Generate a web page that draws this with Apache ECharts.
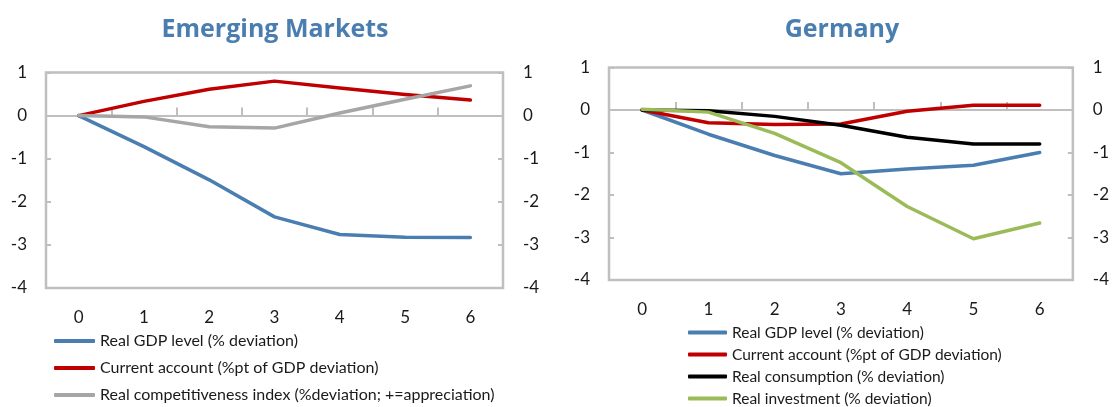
<!DOCTYPE html>
<html>
<head>
<meta charset="utf-8">
<script src="https://cdn.jsdelivr.net/npm/echarts@6/dist/echarts.min.js"></script>
<style>
  html, body { margin: 0; padding: 0; background: #ffffff; }
  #chart { width: 1112px; height: 407px; }
</style>
</head>
<body>
<div id="chart"></div>
<script>
// Years after the shock
const years = ['0', '1', '2', '3', '4', '5', '6'];
const yTicks = [-4, -3, -2, -1, 0, 1];

// Emerging Markets panel
const emGdp = [0, -0.72, -1.49, -2.35, -2.76, -2.82, -2.83];
const emCurrentAccount = [0, 0.33, 0.61, 0.80, 0.64, 0.49, 0.36];
const emCompetitiveness = [0, -0.03, -0.26, -0.29, 0.06, 0.38, 0.69];

// Germany panel
const deGdp = [0, -0.57, -1.07, -1.50, -1.39, -1.30, -1.00];
const deCurrentAccount = [0, -0.30, -0.34, -0.33, -0.03, 0.11, 0.11];
const deConsumption = [0, -0.02, -0.15, -0.36, -0.64, -0.80, -0.80];
const deInvestment = [0.02, -0.05, -0.55, -1.24, -2.27, -3.03, -2.66];

const NAME_GDP = 'Real GDP level (% deviation)';
const NAME_CA = 'Current account (%pt of GDP deviation)';
const NAME_RCI = 'Real competitiveness index (%deviation; +=appreciation)';
const NAME_CONS = 'Real consumption (% deviation)';
const NAME_INV = 'Real investment (% deviation)';

const COL_BLUE = '#4a7eb0';
const COL_RED = '#c00000';
const COL_GRAY = '#a6a6a6';
const COL_BLACK = '#000000';
const COL_GREEN = '#9bbb59';
const AXIS_GRAY = '#bfbfbf';
const TEXT = '#1a1a1a';
const FONT = 'Lato, "Open Sans", sans-serif';
const TITLE_FONT = '"Open Sans", Lato, sans-serif';

const panels = [
  { left: 46, top: 72.5, width: 457, height: 215.5, center: 275, title: 'Emerging Markets' },
  { left: 609, top: 67.5, width: 466, height: 212.5, center: 842, title: 'Germany' }
];

const grids = panels.map(p => ({
  left: p.left, top: p.top, width: p.width, height: p.height,
  show: true, borderColor: AXIS_GRAY, borderWidth: 2.5, backgroundColor: 'transparent'
}));

const xAxes = [];
const yAxes = [];
panels.forEach((p, i) => {
  // zero line with tick marks between categories
  xAxes.push({
    type: 'category', data: years, gridIndex: i, position: 'bottom',
    boundaryGap: true,
    axisLine: { show: true, onZero: true, lineStyle: { color: AXIS_GRAY, width: 2 } },
    axisTick: { show: true, inside: true, length: 8, lineStyle: { color: AXIS_GRAY, width: 2 } },
    axisLabel: { show: false },
    splitLine: { show: false }
  });
  // category labels along the bottom of the plot
  xAxes.push({
    type: 'category', data: years, gridIndex: i, position: 'bottom',
    boundaryGap: true,
    axisLine: { show: false, onZero: false },
    axisTick: { show: false },
    axisLabel: { show: true, margin: 21, fontSize: 17, color: TEXT, fontFamily: FONT },
    splitLine: { show: false }
  });
  ['left', 'right'].forEach(pos => {
    yAxes.push({
      type: 'value', gridIndex: i, position: pos,
      min: yTicks[0], max: yTicks[yTicks.length - 1], interval: 1,
      axisLine: { show: false },
      axisTick: { show: true, inside: true, length: 5, lineStyle: { color: AXIS_GRAY, width: 2 } },
      axisLabel: { show: true, margin: pos === 'left' ? 19 : 20, fontSize: 17, color: TEXT, fontFamily: FONT },
      splitLine: { show: false }
    });
  });
});

function line(name, data, color, panel) {
  return {
    name: name, type: 'line', data: data,
    xAxisIndex: panel * 2, yAxisIndex: panel * 2,
    symbol: 'none', smooth: false,
    lineStyle: { color: color, width: 3.5, cap: 'round', join: 'round' },
    itemStyle: { color: color },
    emphasis: { disabled: true }
  };
}

const series = [
  line(NAME_GDP, emGdp, COL_BLUE, 0),
  line(NAME_CA, emCurrentAccount, COL_RED, 0),
  line(NAME_RCI, emCompetitiveness, COL_GRAY, 0),
  line(NAME_GDP, deGdp, COL_BLUE, 1),
  line(NAME_CA, deCurrentAccount, COL_RED, 1),
  line(NAME_CONS, deConsumption, COL_BLACK, 1),
  line(NAME_INV, deInvestment, COL_GREEN, 1)
];

function legendBlock(names, left, top, iconWidth, gap, fontSize) {
  return {
    orient: 'vertical', icon: 'roundRect', itemHeight: 4, itemWidth: iconWidth,
    selectedMode: false, padding: 0, left: left, top: top, itemGap: gap,
    data: names,
    textStyle: { fontFamily: FONT, color: TEXT, fontSize: fontSize, lineHeight: 16 }
  };
}

const option = {
  animation: false,
  backgroundColor: '#ffffff',
  grid: grids,
  xAxis: xAxes,
  yAxis: yAxes,
  legend: [
    legendBlock([NAME_GDP, NAME_CA, NAME_RCI], 54, 333, 41, 11, 16),
    legendBlock([NAME_GDP, NAME_CA], 688, 324.5, 39, 6, 15.5),
    legendBlock([NAME_CONS, NAME_INV], 688, 368.5, 39, 6, 15.5)
  ],
  graphic: panels.map(p => ({
    type: 'text', x: p.center, y: 30,
    style: {
      text: p.title, fill: COL_BLUE,
      font: 'bold 25px ' + TITLE_FONT,
      textAlign: 'center', textVerticalAlign: 'middle'
    }
  })),
  series: series
};

const chart = echarts.init(document.getElementById('chart'), null, { renderer: 'canvas' });
chart.setOption(option);
</script>
</body>
</html>
